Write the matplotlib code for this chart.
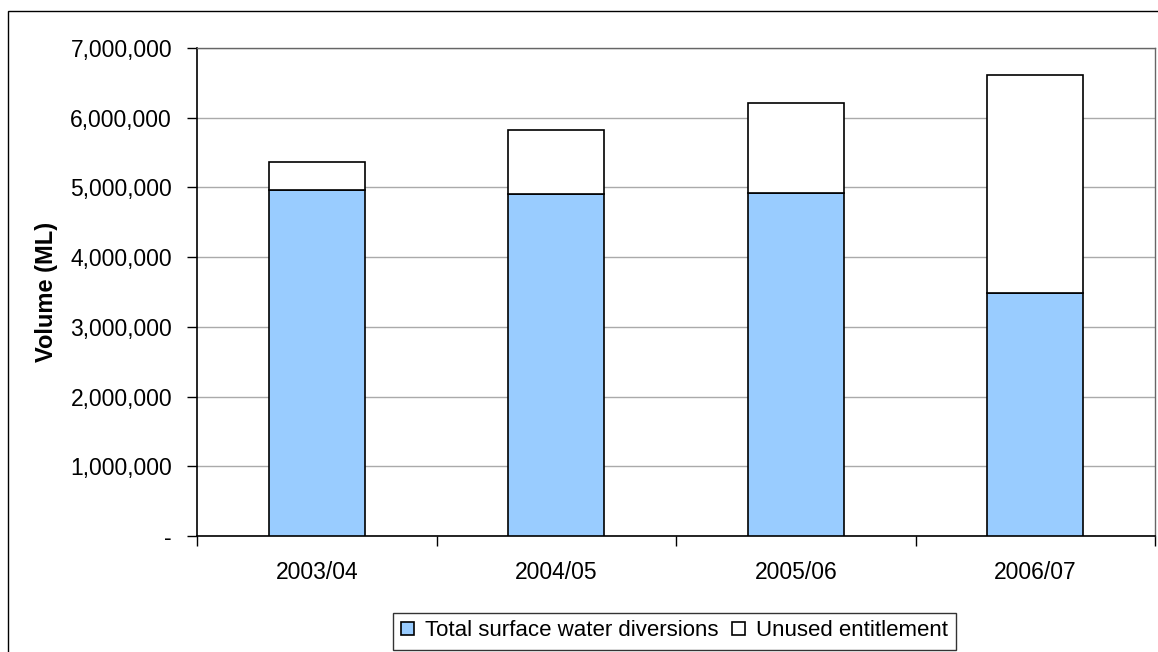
import matplotlib
matplotlib.use("Agg")
from matplotlib import pyplot as plt
from matplotlib.patches import Rectangle
from matplotlib.ticker import FuncFormatter

# Data
years = ['2003/04', '2004/05', '2005/06', '2006/07']
diversions = [4970000, 4900000, 4925000, 3480000]
unused = [390000, 930000, 1285000, 3130000]
series_names = ['Total surface water diversions', 'Unused entitlement']

plt.rcParams['font.family'] = ['Liberation Sans', 'DejaVu Sans']

fig = plt.figure(figsize=(11.58, 6.52), dpi=100)
fig.patch.set_facecolor('white')

# outer chart frame (runs off the right and bottom edges)
fig.patches.append(Rectangle((8 / 1158, -0.05), 1.2, 1 - 11 / 652 + 0.05,
                             transform=fig.transFigure, fill=False,
                             edgecolor='black', linewidth=1.0))

ax = fig.add_axes([197 / 1158, 1 - 536 / 652, (1155 - 197) / 1158, (536 - 48) / 652])

x = list(range(len(years)))
ax.bar(x, diversions, width=0.4, color='#99ccff', edgecolor='black',
       linewidth=1.2, label=series_names[0], zorder=3)
ax.bar(x, unused, width=0.4, bottom=diversions, color='white', edgecolor='black',
       linewidth=1.2, label=series_names[1], zorder=3)

ax.set_xlim(-0.5, len(years) - 0.5)
ax.set_ylim(0, 7000000)
ax.set_yticks(range(0, 7000001, 1000000))
ax.yaxis.set_major_formatter(FuncFormatter(lambda v, p: '-' if v == 0 else f'{int(v):,}'))
ax.grid(axis='y', color='#aaaaaa', linewidth=1, zorder=0)

# categories centred, ticks on category boundaries
ax.set_xticks(x)
ax.set_xticklabels(years)
ax.set_xticks([i - 0.5 for i in range(len(years) + 1)], minor=True)
ax.tick_params(axis='x', which='major', length=0, pad=18, labelsize=16.5)
ax.tick_params(axis='x', which='minor', length=7, width=1, direction='out')
ax.tick_params(axis='y', length=7, width=1, direction='out', pad=11, labelsize=16.5)

for side in ['left', 'bottom']:
    ax.spines[side].set_color('black')
    ax.spines[side].set_linewidth(1.2)
for side in ['top', 'right']:
    ax.spines[side].set_color('#666666')
    ax.spines[side].set_linewidth(1.0)

ax.set_ylabel('Volume (ML)', fontsize=17, fontweight='bold')
ax.yaxis.set_label_coords(-0.145, 0.5)

leg = fig.legend(loc='center', bbox_to_anchor=(674.5 / 1158, 1 - 631 / 652),
                 ncol=2, fontsize=16, frameon=True, fancybox=False,
                 handlelength=0.57, handleheight=0.57, handletextpad=0.5,
                 columnspacing=0.6, borderpad=0.36, borderaxespad=0)
leg.get_frame().set_edgecolor('black')
leg.get_frame().set_linewidth(1.0)

plt.savefig('out.png', dpi=100)
